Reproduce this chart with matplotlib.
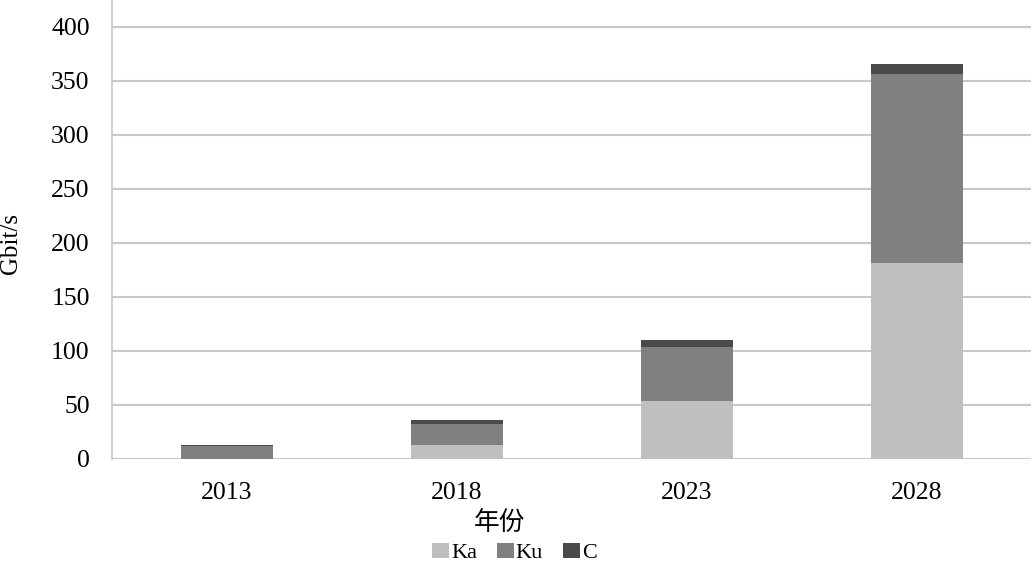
import matplotlib.pyplot as plt
import numpy as np

plt.rcParams['font.family'] = ['Liberation Serif', 'Noto Sans CJK SC']

years = ["2013", "2018", "2023", "2028"]
ka = [0, 13, 54, 181]
ku = [12, 19, 50, 175]
c = [1, 4, 6, 10]

fig = plt.figure(figsize=(10.32, 5.63), dpi=100)
ax = fig.add_axes([0.1085, 0.185, 0.891, 0.815])

x = np.arange(len(years))
w = 0.4
ka_b = np.array(ka)
ku_b = ka_b + np.array(ku)
ax.bar(x, ka, w, color="#bfbfbf", label="Ka", zorder=3)
ax.bar(x, ku, w, bottom=ka_b, color="#808080", label="Ku", zorder=3)
ax.bar(x, c, w, bottom=ku_b, color="#4a4a4a", label="C", zorder=3)

ax.set_xlim(-0.5, 3.5)
ax.set_ylim(0, 425)
ax.set_yticks(range(0, 401, 50))
ax.set_xticks(x)
ax.set_xticklabels(years)
ax.yaxis.grid(True, color="#c8c8c8", linewidth=1.5, zorder=0)
for s in ["top", "right", "bottom"]:
    ax.spines[s].set_visible(False)
ax.spines["left"].set_color("#c8c8c8")
ax.spines["left"].set_linewidth(1.2)
ax.tick_params(length=0, labelsize=18.5, colors="#000000")
ax.tick_params(axis="y", pad=16)
ax.tick_params(axis="x", pad=17)
ax.set_ylabel("Gbit/s", fontsize=18)
ax.yaxis.set_label_coords(-0.098, 0.47)
ax.set_xlabel("年份", fontsize=18.5)
ax.xaxis.set_label_coords(0.422, -0.113)

ax.legend(loc="center", bbox_to_anchor=(0.4985, 0.018), bbox_transform=fig.transFigure,
          ncol=3, frameon=False, fontsize=16, handlelength=0.75, handleheight=0.65,
          handletextpad=0.1, columnspacing=0.9, borderpad=0.2)

fig.savefig("out.png")
